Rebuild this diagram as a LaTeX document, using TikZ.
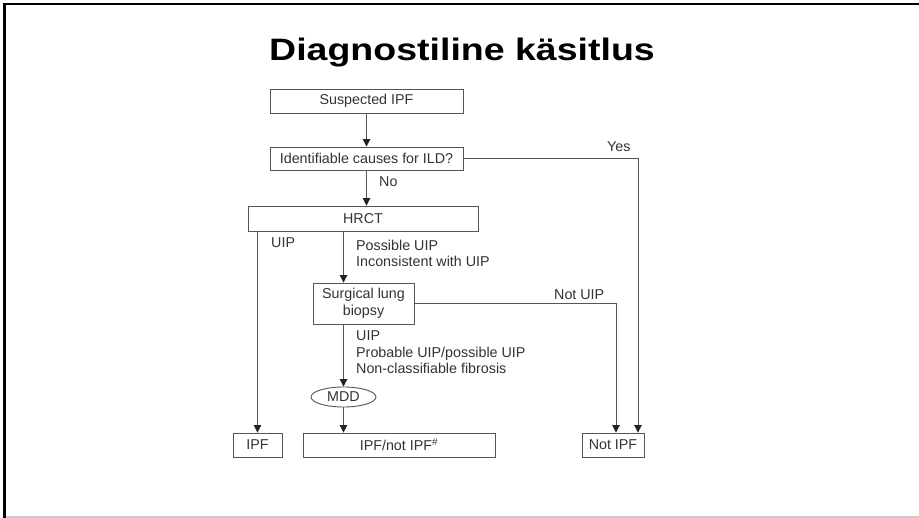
\documentclass[tikz,border=0pt]{standalone}
\usepackage{fontspec}
\setmainfont{Liberation Sans}
\usetikzlibrary{arrows.meta,shapes.geometric}
\definecolor{linegray}{HTML}{555555}
\definecolor{txtgray}{HTML}{333333}
\definecolor{tipgray}{HTML}{222222}
\begin{document}
\begin{tikzpicture}[x=1pt,y=-1pt,
  box/.style={draw=linegray,line width=0.9pt,rectangle,inner sep=0pt,text=txtgray,font=\fontsize{14.3}{16.5}\selectfont,align=center},
  lbl/.style={inner sep=0pt,text=txtgray,font=\fontsize{14.3}{16.5}\selectfont,align=left},
  conn/.style={draw=linegray,line width=0.9pt},
  arr/.style={conn,-{Triangle[width=7.5pt,length=7.5pt,color=tipgray]}}]
\path[fill=white,use as bounding box] (0,0) rectangle (919,518);
% frame
\draw[line width=2.5pt,black] (3,4) -- (919,4);
\draw[line width=3pt,black] (4.5,3) -- (4.5,518);
\draw[line width=1.5pt,black!20] (6,517) -- (919,517);
% title
\node[font=\fontsize{31}{31}\bfseries\selectfont,xscale=1.21,anchor=base,inner sep=0pt] (title) at (462,61) {Diagnostiline käsitlus};
% boxes
\node[box,minimum width=193pt,minimum height=24pt] (susp) at (366.5,101) {Suspected IPF};
\node[box,minimum width=193pt,minimum height=23pt] (ident) at (366.5,158.5) {Identifiable causes for ILD?};
\node[box,minimum width=230pt,minimum height=25pt] (hrct) at (363,218.5) {HRCT};
\node[box,minimum width=101pt,minimum height=41pt] (slb) at (363.5,303.5) {Surgical lung\\biopsy};
\node[box,ellipse,minimum width=65pt,minimum height=20pt] (mdd) at (343.5,397) {MDD};
\node[box,minimum width=49pt,minimum height=24pt] (ipf) at (257.5,445) {IPF};
\node[box,minimum width=192pt,minimum height=24pt] (ipfnot) at (399,445) {IPF/not IPF\textsuperscript{\#}};
\node[box,minimum width=62pt,minimum height=24pt] (notipf) at (613,445) {Not IPF};
% labels
\node[lbl,anchor=west] (no) at (379,182) {No};
\node[lbl,anchor=west] (yes) at (607,147) {Yes};
\node[lbl,anchor=west] (uipl) at (271,243) {UIP};
\node[lbl,anchor=west] (poss) at (356,253.5) {Possible UIP\\Inconsistent with UIP};
\node[lbl,anchor=west] (notuip) at (554,295) {Not UIP};
\node[lbl,anchor=west] (slbout) at (356,352.5) {UIP\\Probable UIP/possible UIP\\Non-classifiable fibrosis};
% connectors
\draw[arr] (susp.south) -- (ident.north);
\draw[arr] (ident.south) -- (ident.south |- hrct.north);
\draw[arr] (ident.east) -| ([xshift=25pt]notipf.north);
\draw[arr] (hrct.south -| ipf.north) -- (ipf.north);
\draw[arr] (hrct.south -| mdd.north) -- (slb.north -| mdd.north);
\draw[arr] (slb.east) -| ([xshift=3pt]notipf.north);
\draw[arr] (slb.south -| mdd.north) -- (mdd.north);
\draw[arr] (mdd.south) -- (mdd.south |- ipfnot.north);
\end{tikzpicture}
\end{document}
